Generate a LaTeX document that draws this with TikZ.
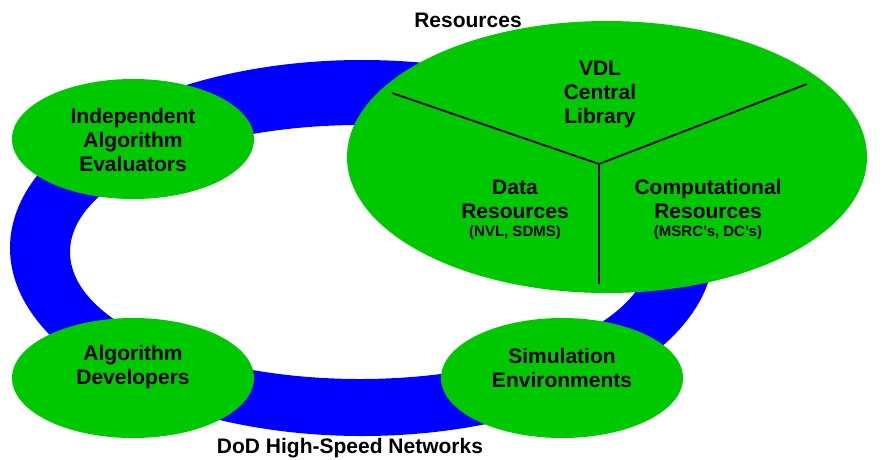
\documentclass[tikz,border=0pt]{standalone}
\usepackage{fontspec}
\setmainfont{Liberation Sans}
\usetikzlibrary{shapes.geometric}
\definecolor{ringblue}{RGB}{0,0,255}
\definecolor{nodegreen}{RGB}{0,200,0}
\tikzset{
  blob/.style={ellipse, fill=nodegreen, draw=none, inner sep=0pt},
  lbl/.style={align=center, font=\fontsize{21}{24}\selectfont\bfseries, inner sep=0pt},
  sublbl/.style={align=center, font=\fontsize{15}{17}\selectfont\bfseries, inner sep=0pt},
  divider/.style={line width=1.8pt, black}
}
\begin{document}
\begin{tikzpicture}[x=1pt,y=-1pt]
\useasboundingbox (0,0) rectangle (885,459);
% network ring
\fill[ringblue, even odd rule] (362,248) ellipse [x radius=352pt, y radius=188pt]
  (360,252) ellipse [x radius=290pt, y radius=127pt];
% green ellipses
\node[blob, minimum width=242pt, minimum height=120pt] (eval) at (133,139) {};
\node[blob, minimum width=242pt, minimum height=120pt] (dev) at (133,378) {};
\node[blob, minimum width=242pt, minimum height=120pt] (sim) at (562,378) {};
\node[blob, minimum width=520pt, minimum height=272pt] (res) at (607,157) {};
% dividers
\coordinate (hub) at (599,164);
\coordinate (dl) at (392,93);
\coordinate (dr) at (807,84);
\coordinate (db) at (599,284);
\draw[divider] (dl) -- (hub) -- (dr);
\draw[divider] (hub) -- (db);
% labels
\node[lbl] (evalt) at (133,140) {Independent\\Algorithm\\Evaluators};
\node[lbl] (devt) at (133,367) {Algorithm\\Developers};
\node[lbl] (simt) at (562,368) {Simulation\\Environments};
\node[lbl] (vdl) at (600,94) {VDL\\Central\\Library};
\node[lbl] (data) at (515,199) {Data\\Resources};
\node[sublbl] (datas) at (515,233) {(NVL, SDMS)};
\node[lbl] (comp) at (708,199) {Computational\\Resources};
\node[sublbl] (comps) at (708,233) {(MSRC’s, DC’s)};
\node[lbl] (restitle) at (468,20) {Resources};
\node[lbl] (net) at (350,448) {DoD High-Speed Networks};
\end{tikzpicture}
\end{document}
